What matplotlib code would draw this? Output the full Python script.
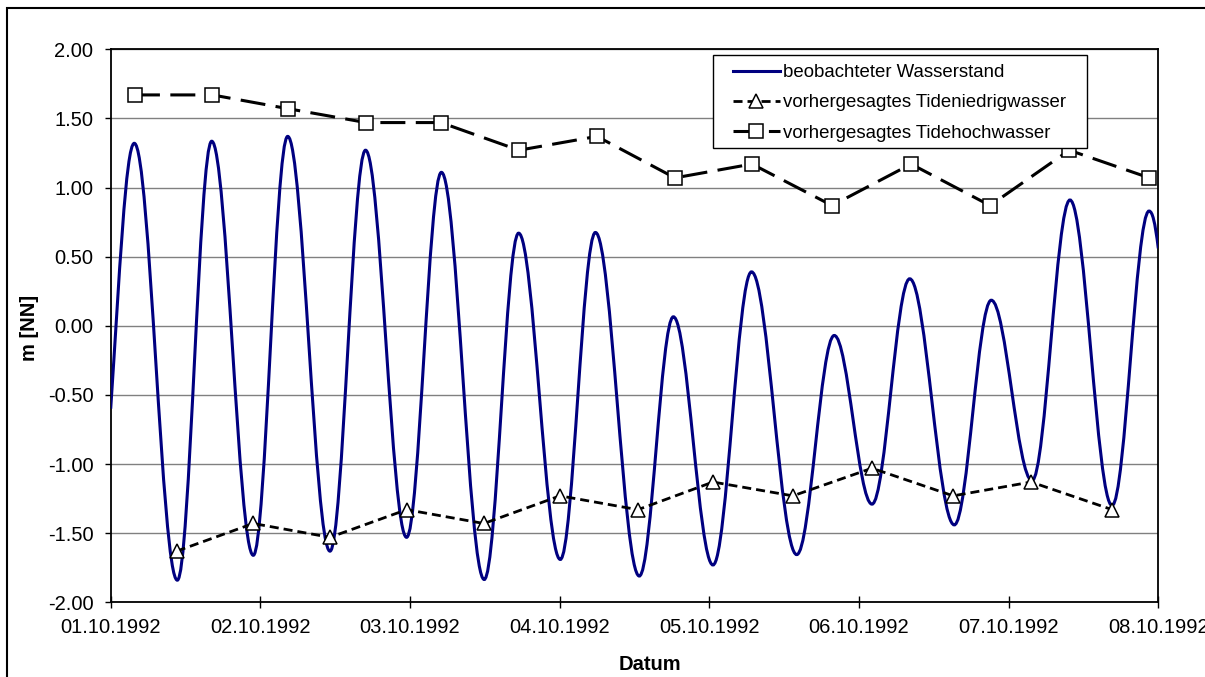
import numpy as np
import pandas as pd
import matplotlib
matplotlib.use('Agg')
import matplotlib.pyplot as plt
import matplotlib.dates as mdates
from matplotlib.path import Path
from matplotlib.patches import PathPatch, Rectangle
from matplotlib.lines import Line2D

plt.rcParams['font.family'] = ['Liberation Sans', 'DejaVu Sans']
plt.rcParams['lines.scale_dashes'] = False

# ---------------- data ----------------
# observed water level: start value, alternating high / low water extremes, end value
obs_time = ['1992-10-01 00:00', '1992-10-01 03:47', '1992-10-01 10:41', '1992-10-01 16:12', '1992-10-01 22:52',
            '1992-10-02 04:23', '1992-10-02 11:10', '1992-10-02 16:52', '1992-10-02 23:27',
            '1992-10-03 05:02', '1992-10-03 11:54', '1992-10-03 17:25', '1992-10-04 00:06',
            '1992-10-04 05:44', '1992-10-04 12:46', '1992-10-04 18:14', '1992-10-05 00:35',
            '1992-10-05 06:46', '1992-10-05 14:01', '1992-10-05 20:02', '1992-10-06 02:05',
            '1992-10-06 08:08', '1992-10-06 15:17', '1992-10-06 21:13', '1992-10-07 03:45',
            '1992-10-07 09:50', '1992-10-07 16:35', '1992-10-07 22:31', '1992-10-08 00:00']
obs_value = [-0.60, 1.32, -1.84, 1.335, -1.66, 1.37, -1.63, 1.27, -1.53, 1.11, -1.835, 0.67,
             -1.69, 0.675, -1.81, 0.065, -1.73, 0.39, -1.655, -0.07, -1.29, 0.34, -1.44,
             0.185, -1.12, 0.91, -1.30, 0.83, 0.56]

# predicted low water (Tideniedrigwasser)
tnw_time = ['1992-10-01 10:35', '1992-10-01 22:52', '1992-10-02 11:10', '1992-10-02 23:27',
            '1992-10-03 11:51', '1992-10-04 00:03', '1992-10-04 12:33', '1992-10-05 00:35',
            '1992-10-05 13:24', '1992-10-06 02:05', '1992-10-06 15:06', '1992-10-07 03:36',
            '1992-10-07 16:36']
tnw_value = [-1.63, -1.43, -1.53, -1.33, -1.43, -1.23, -1.33, -1.13, -1.23, -1.03, -1.23, -1.13, -1.33]

# predicted high water (Tidehochwasser)
thw_time = ['1992-10-01 03:53', '1992-10-01 16:18', '1992-10-02 04:29', '1992-10-02 16:57',
            '1992-10-03 04:58', '1992-10-03 17:28', '1992-10-04 05:59', '1992-10-04 18:29',
            '1992-10-05 06:50', '1992-10-05 19:41', '1992-10-06 08:21', '1992-10-06 21:01',
            '1992-10-07 09:43', '1992-10-07 22:34']
thw_value = [1.67, 1.67, 1.57, 1.47, 1.47, 1.27, 1.37, 1.07, 1.17, 0.87, 1.17, 0.87, 1.27, 1.07]

labels = ['beobachteter Wasserstand', 'vorhergesagtes Tideniedrigwasser', 'vorhergesagtes Tidehochwasser']
x_start, x_end = '1992-10-01', '1992-10-08'
y_ticks = [-2.0, -1.5, -1.0, -0.5, 0.0, 0.5, 1.0, 1.5, 2.0]

# ---------------- figure ----------------
W, H = 1205, 677
fig = plt.figure(figsize=(W / 100, H / 100), dpi=100)
fig.patch.set_facecolor('white')
ax_l, ax_r, ax_t, ax_b = 110.7, 1158.3, 49.3, 602.3
ax = fig.add_axes([ax_l / W, 1 - ax_b / H, (ax_r - ax_l) / W, (ax_b - ax_t) / H])

# outer chart-area border
fig.add_artist(Rectangle((7.3 / W, -0.5), 2.0, 0.5 + 1 - 8.3 / H, transform=fig.transFigure,
                         fill=False, edgecolor='black', linewidth=1.5))

# observed: smoothed line (Excel-like bezier smoothing through the values)
xo = mdates.date2num(pd.to_datetime(obs_time))
yo = np.array(obs_value, dtype=float)
m = np.zeros_like(yo)
m[0] = 1.34 * (yo[1] - yo[0]) / (xo[1] - xo[0])
m[-1] = 2.0 * (yo[-1] - yo[-2]) / (xo[-1] - xo[-2])
k = 0.36
verts = [(xo[0], yo[0])]
codes = [Path.MOVETO]
for i in range(len(xo) - 1):
    dt = xo[i + 1] - xo[i]
    verts += [(xo[i] + k * dt, yo[i] + m[i] * k * dt),
              (xo[i + 1] - k * dt, yo[i + 1] - m[i + 1] * k * dt),
              (xo[i + 1], yo[i + 1])]
    codes += [Path.CURVE4] * 3
ax.add_patch(PathPatch(Path(verts, codes), fill=False, edgecolor='#000080', linewidth=2.2,
                       zorder=3, capstyle='butt'))

navy_handle = Line2D([], [], color='#000080', linewidth=2.2)

xn = mdates.date2num(pd.to_datetime(tnw_time))
tnw_line, = ax.plot(xn, tnw_value, color='black', linewidth=2.0, dashes=(6.5, 3.6),
                    marker='^', markersize=9.5, markerfacecolor='white', markeredgecolor='black',
                    markeredgewidth=1.1, zorder=4)
xh = mdates.date2num(pd.to_datetime(thw_time))
thw_line, = ax.plot(xh, thw_value, color='black', linewidth=2.2, dashes=(18, 7.5),
                    marker='s', markersize=10, markerfacecolor='white', markeredgecolor='black',
                    markeredgewidth=1.1, zorder=4)

ax.set_xlim(mdates.date2num(pd.Timestamp(x_start)), mdates.date2num(pd.Timestamp(x_end)))
ax.set_ylim(-2.0, 2.0)
ax.set_yticks(y_ticks)
ax.yaxis.set_major_formatter(matplotlib.ticker.FormatStrFormatter('%.2f'))
ax.xaxis.set_major_locator(mdates.DayLocator())
ax.xaxis.set_major_formatter(mdates.DateFormatter('%d.%m.%Y'))

ax.yaxis.grid(True, color='#808080', linewidth=1.0)
ax.set_axisbelow(True)
for sp in ax.spines.values():
    sp.set_color('black')
    sp.set_linewidth(1.3)
ax.tick_params(axis='y', direction='out', length=4.5, width=1.0, pad=8, labelsize=14.5, colors='black')
ax.tick_params(axis='x', direction='inout', length=8.5, width=1.0, pad=7, labelsize=14.5, colors='black')

ax.set_xlabel('Datum', fontsize=14.5, fontweight='bold')
ax.xaxis.set_label_coords((650 - ax_l) / (ax_r - ax_l), -(655 - ax_b) / (ax_b - ax_t))
ax.set_ylabel('m [NN]', fontsize=14.5, fontweight='bold')
ax.yaxis.set_label_coords((39 - ax_l) / (ax_r - ax_l), 1 - (328.3 - ax_t) / (ax_b - ax_t))

# legend box
aw, ah = ax_r - ax_l, ax_b - ax_t
lx0, lx1, ly0, ly1 = 713.3, 1086.7, 55.0, 148.3
ax.add_patch(Rectangle(((lx0 - ax_l) / aw, 1 - (ly1 - ax_t) / ah), (lx1 - lx0) / aw, (ly1 - ly0) / ah,
                       transform=ax.transAxes, facecolor='white', edgecolor='black', linewidth=1.0,
                       zorder=6, clip_on=False))
leg = ax.legend([navy_handle, tnw_line, thw_line], labels, loc='upper left',
                bbox_to_anchor=((733 - ax_l) / aw, 1 - (64 - ax_t) / ah), frameon=False,
                borderpad=0, borderaxespad=0, handlelength=2.5, handletextpad=0.2,
                labelspacing=0.72, fontsize=13.4)
leg.set_zorder(7)

fig.savefig('out.png', dpi=100, facecolor='white')
